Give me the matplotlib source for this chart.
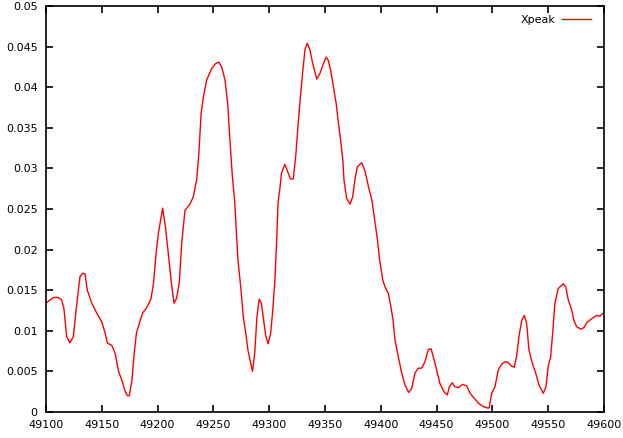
import matplotlib
matplotlib.use("Agg")
import matplotlib.pyplot as plt
from matplotlib.ticker import FuncFormatter, MultipleLocator

x = [49100, 49106.6, 49111, 49114, 49116, 49118.5, 49121.5, 49124.5, 49127, 49130.5,
     49133, 49135, 49137, 49141, 49145.4, 49150, 49153, 49155, 49159, 49162,
     49165, 49168, 49171, 49173, 49174.6, 49177, 49179, 49181, 49183.6, 49186.6,
     49190, 49194, 49196.3, 49198.6, 49200.7, 49204.5, 49207, 49209.6, 49212, 49214.7,
     49217, 49219.5, 49221.6, 49223.7, 49224.5, 49229, 49232, 49235, 49237, 49239,
     49241, 49244, 49248.5, 49252, 49254.7, 49257.4, 49260.4, 49262.8, 49265, 49267,
     49269, 49270, 49272, 49274.5, 49276.8, 49279, 49281, 49283.4, 49285, 49287,
     49289, 49291, 49293, 49294.7, 49297, 49299, 49301.3, 49303, 49305, 49306.7,
     49308, 49309.7, 49311, 49314, 49316, 49319, 49321.6, 49324, 49326, 49328.5,
     49330.5, 49332, 49334, 49336.5, 49339, 49342.6, 49345.5, 49348, 49351, 49353,
     49355, 49357.5, 49360, 49362, 49364, 49366, 49367, 49369.4, 49372.4, 49374.8,
     49377, 49379, 49383, 49386, 49389, 49392, 49394, 49397, 49399, 49401.7,
     49403.8, 49406.7, 49409, 49411, 49412.7, 49415.7, 49418.7, 49421.7, 49425, 49427.7,
     49430.6, 49433.6, 49436.6, 49439.6, 49442.6, 49445, 49447, 49450, 49453, 49456.6,
     49459.6, 49461.4, 49464, 49466.5, 49469.5, 49473.4, 49477, 49480, 49483, 49487.4,
     49491.3, 49495.4, 49497, 49499.4, 49502.3, 49505.3, 49508.3, 49511.3, 49514.3, 49516.7,
     49519.6, 49521.8, 49523.8, 49526.3, 49528.6, 49530.7, 49532.8, 49535.8, 49538.8, 49541.8,
     49545.6, 49548, 49550, 49552.2, 49554, 49556, 49559, 49563.6, 49565.7, 49568,
     49571, 49573, 49575.5, 49579.4, 49582, 49584.5, 49589, 49593.4, 49596.4, 49599.4]

xpeak = [0.0134, 0.0141, 0.0141, 0.0138, 0.0128, 0.0093, 0.0085, 0.0093, 0.0126, 0.0167,
         0.0171, 0.0170, 0.0150, 0.0134, 0.0122, 0.0111, 0.0097, 0.0085, 0.0082, 0.0072,
         0.0050, 0.0039, 0.0025, 0.0020, 0.0020, 0.0039, 0.0072, 0.0097, 0.0109, 0.0122,
         0.0128, 0.0139, 0.0158, 0.0195, 0.0220, 0.0251, 0.0228, 0.0195, 0.0163, 0.0134,
         0.0140, 0.0160, 0.0208, 0.0236, 0.0248, 0.0256, 0.0265, 0.0286, 0.0319, 0.0368,
         0.0388, 0.0409, 0.0423, 0.0429, 0.0431, 0.0425, 0.0409, 0.0380, 0.0331, 0.0290,
         0.0261, 0.0236, 0.0187, 0.0154, 0.0117, 0.0097, 0.0076, 0.0060, 0.0050, 0.0072,
         0.0117, 0.0139, 0.0134, 0.0117, 0.0093, 0.0084, 0.0097, 0.0122, 0.0160, 0.0212,
         0.0259, 0.0277, 0.0294, 0.0305, 0.0298, 0.0287, 0.0287, 0.0319, 0.0356, 0.0397,
         0.0425, 0.0446, 0.0454, 0.0446, 0.0429, 0.0410, 0.0417, 0.0427, 0.0437, 0.0433,
         0.0421, 0.0401, 0.0380, 0.0356, 0.0335, 0.0310, 0.0286, 0.0263, 0.0256, 0.0265,
         0.0288, 0.0302, 0.0307, 0.0296, 0.0277, 0.0261, 0.0241, 0.0212, 0.0187, 0.0163,
         0.0154, 0.0146, 0.0130, 0.0113, 0.0089, 0.0068, 0.0048, 0.0033, 0.0024, 0.0029,
         0.0048, 0.0054, 0.0054, 0.0062, 0.0077, 0.0078, 0.0068, 0.0052, 0.0035, 0.0025,
         0.0021, 0.0031, 0.0036, 0.0031, 0.0030, 0.0034, 0.0032, 0.0023, 0.0018, 0.0011,
         0.0007, 0.0005, 0.0005, 0.0023, 0.0031, 0.0052, 0.0059, 0.0062, 0.0061, 0.0057,
         0.0055, 0.0070, 0.0093, 0.0113, 0.0119, 0.0109, 0.0076, 0.0060, 0.0048, 0.0033,
         0.0023, 0.0031, 0.0056, 0.0068, 0.0097, 0.0134, 0.0152, 0.0158, 0.0154, 0.0138,
         0.0126, 0.0113, 0.0105, 0.0102, 0.0104, 0.0110, 0.0115, 0.0119, 0.0118, 0.0122]

series_label = "Xpeak"

fig = plt.figure(figsize=(6.23, 4.38), dpi=100)
ax = fig.add_axes([46/623, 26/438, (604-46)/623, (412-6)/438])
ax.plot(x, xpeak, color="#ff0000", lw=1.0, label=series_label)
ax.set_xlim(49100, 49600)
ax.set_ylim(0, 0.05)
ax.xaxis.set_major_locator(MultipleLocator(50))
ax.yaxis.set_major_locator(MultipleLocator(0.005))
ax.yaxis.set_major_formatter(FuncFormatter(lambda v, p: "%g" % round(v, 4)))
ax.xaxis.set_major_formatter(FuncFormatter(lambda v, p: "%d" % round(v)))
ax.tick_params(direction="in", length=5, width=1.2, top=True, right=True,
               labelsize=8, pad=6, colors="black")
for s in ax.spines.values():
    s.set_linewidth(1.2)
leg = ax.legend(loc="upper right", frameon=False, markerfirst=False, fontsize=8,
                handlelength=2.6, handletextpad=0.6, borderaxespad=0.4,
                bbox_to_anchor=(1 - 4/558, 1))
fig.savefig("out.png", dpi=100)
